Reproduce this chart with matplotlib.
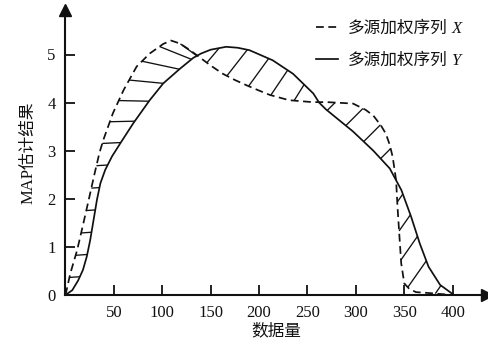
import matplotlib

matplotlib.use("Agg")

import matplotlib.pyplot as plt
import numpy as np

plt.rcParams["font.family"] = ["Liberation Serif", "Noto Sans CJK SC"]

# 多源加权序列 X (dashed)
x_X = [0, 5, 12, 18, 24, 30, 35, 39, 49, 60, 73.5, 87, 101, 109, 118, 128,
       138, 150, 162.5, 175, 187, 200, 211, 231, 255, 270, 297, 310, 318,
       326, 331, 335, 338, 341.5, 343, 345, 346.8, 350, 355, 362, 376, 400]
y_X = [0, 0.45, 0.93, 1.45, 1.98, 2.52, 2.95, 3.22, 3.78, 4.26, 4.75, 5.02,
       5.22, 5.29, 5.23, 5.1, 4.95, 4.77, 4.6, 4.47, 4.36, 4.25, 4.16, 4.05,
       4.01, 4.01, 3.98, 3.85, 3.73, 3.52, 3.35, 3.12, 2.87, 2.39, 1.83,
       1.21, 0.66, 0.24, 0.13, 0.06, 0.04, 0.0]

# 多源加权序列 Y (solid)
x_Y = [0, 7, 13, 18, 22, 25.5, 29, 32.5, 36, 41, 48, 56.5, 70, 87, 101, 118,
       132, 140, 150, 166, 178, 190, 214, 235, 256, 262, 269, 283, 297, 318,
       335, 347, 357, 366, 375, 387, 400]
y_Y = [0, 0.1, 0.3, 0.52, 0.8, 1.14, 1.56, 1.98, 2.32, 2.6, 2.88, 3.15,
       3.57, 4.05, 4.4, 4.7, 4.93, 5.02, 5.1, 5.16, 5.14, 5.09, 4.88, 4.6,
       4.19, 4.0, 3.86, 3.63, 3.4, 3.0, 2.63, 2.18, 1.63, 1.07, 0.59, 0.21,
       0.02]

labels = ["多源加权序列", "多源加权序列"]
label_vars = ["X", "Y"]
x_ticks = [50, 100, 150, 200, 250, 300, 350, 400]
y_ticks = [0, 1, 2, 3, 4, 5]

INK = "#111111"
W, H = 489, 348
X0, Y0 = 65.5, 295          # pixel position of the origin
SX = 48.4 / 50              # px per x unit
SY = 48.1                   # px per y unit


def hatch(ax, xs, y_from, y_to, lo, hi, angles, spacing, offset, power=1):
    """Short strokes from one curve to the other, evenly spaced along y_from."""
    m = (xs >= lo) & (xs <= hi)
    px, py = xs[m] * SX, y_from[m] * SY
    arc = np.concatenate([[0], np.cumsum(np.hypot(np.diff(px), np.diff(py)))])
    marks = np.arange(offset, arc[-1] - 0.3 * spacing, spacing)
    t = np.linspace(0, 90, 1801)
    for k, s in enumerate(marks):
        x0 = np.interp(s, arc, xs[m])
        y0 = np.interp(x0, xs, y_from)
        frac = (k / max(len(marks) - 1, 1)) ** power
        ang = np.radians(angles[0] + (angles[1] - angles[0]) * frac)
        xt = x0 + t * np.cos(ang) / SX
        yt = y0 + t * np.sin(ang) / SY
        g = yt - np.interp(xt, xs, y_to)
        sg = np.sign(g[0]) or np.sign(g[1])
        hit = np.nonzero(np.sign(g) == -sg)[0]
        if hit.size == 0:
            continue
        i = hit[0]
        ax.plot([x0, xt[i]], [y0, yt[i]], color=INK, lw=0.95,
                solid_capstyle="butt", zorder=2)


fig = plt.figure(figsize=(W / 100, H / 100), dpi=100)
ax = fig.add_axes([X0 / W, (H - Y0) / H, (487 - X0) / W, (Y0 - 10) / H])
ax.set_xlim(0, (487 - X0) / SX)
ax.set_ylim(0, (Y0 - 10) / SY)

ax.plot(x_X, y_X, color=INK, lw=1.25, dashes=(4.5, 2.6), zorder=3)
ax.plot(x_Y, y_Y, color=INK, lw=1.25, zorder=3)

xs = np.linspace(0, 400, 4001)
yx = np.interp(xs, x_X, y_X)
yy = np.interp(xs, x_Y, y_Y)
d = yx - yy
inner = np.arange(40, 3960)
cross = xs[inner[np.nonzero(np.diff(np.sign(d[inner])))[0]]]
edges = [0.0, *cross, 400.0]

# per region: (start on X?, angle range, spacing, offset, easing power)
regions = [(True, (4, -36), 23, 18, 5),
           (True, (50, 58), 24, 12, 1),
           (False, (45, 45), 24, 12, 1),
           (True, (55, 55), 29, 22, 1)]
for (lo, hi), (from_x, angs, sp, off, pw) in zip(zip(edges[:-1], edges[1:]), regions):
    if from_x:
        hatch(ax, xs, yx, yy, lo, hi, angs, sp, off, pw)
    else:
        hatch(ax, xs, yy, yx, lo, hi, angs, sp, off, pw)

for side in ("top", "right"):
    ax.spines[side].set_visible(False)
for side in ("left", "bottom"):
    ax.spines[side].set_linewidth(1.5)
    ax.spines[side].set_color(INK)
ax.plot(1, 0, marker=">", ms=8, color=INK, transform=ax.transAxes, clip_on=False)
ax.plot(0, 1, marker="^", ms=8, color=INK, transform=ax.transAxes, clip_on=False)

ax.set_xticks(x_ticks)
ax.set_yticks(y_ticks)
ax.tick_params(direction="in", length=7, width=1.3, color=INK,
               labelsize=12, pad=7, labelcolor=INK)
ax.set_xlabel("数据量", fontsize=12, labelpad=2, color=INK)
ax.set_ylabel("MAP估计结果", fontsize=12, labelpad=8, color=INK)

leg = ax.legend(ax.get_lines()[:2], labels, loc="upper left",
                bbox_to_anchor=(316 / W, 1 - 21 / H),
                bbox_transform=fig.transFigure, frameon=False, fontsize=12,
                handlelength=1.35, handletextpad=0.55, labelspacing=0.95,
                borderpad=0, borderaxespad=0)
fig.canvas.draw()
for txt, var in zip(leg.get_texts(), label_vars):
    txt.set_color(INK)
    bb = txt.get_window_extent()
    fig.text((bb.x1 + 4) / W, (bb.y0 + bb.y1) / 2 / H, var, va="center",
             fontsize=12, fontstyle="italic", color=INK)

fig.savefig("out.png", dpi=100)
